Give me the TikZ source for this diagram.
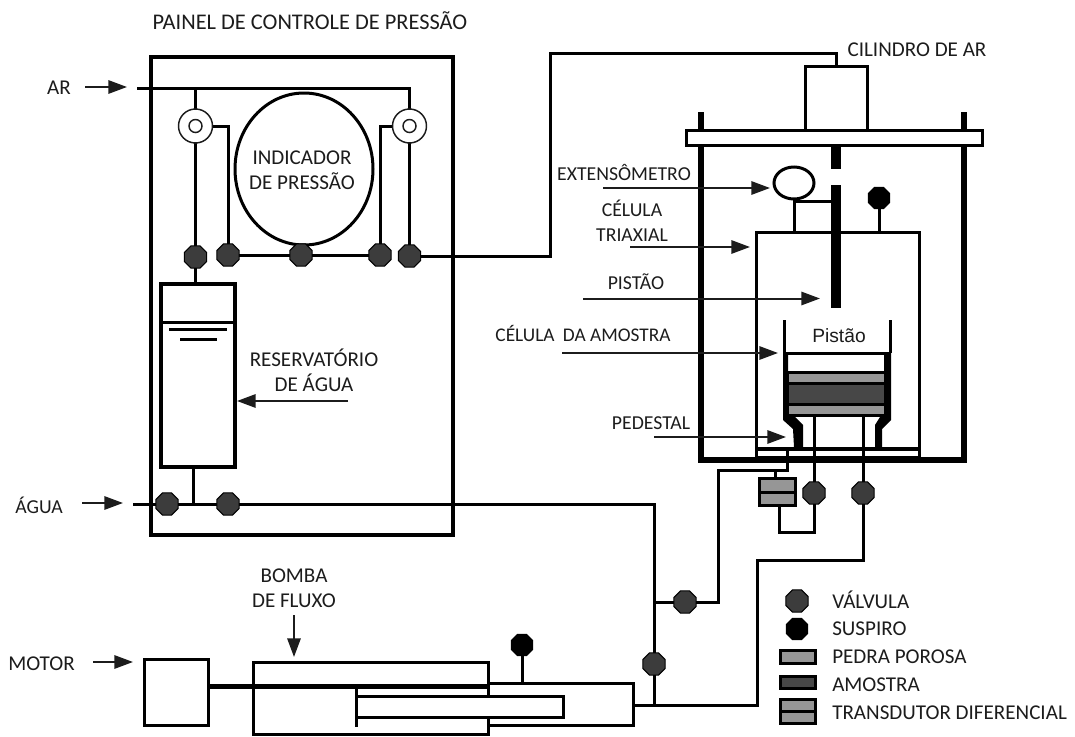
\documentclass[tikz,border=0pt]{standalone}
\usepackage{fontspec}
\setmainfont{Carlito}
\newfontfamily\pistonfont{Liberation Sans}
\usepackage{pgf, tikz}
\usetikzlibrary{arrows.meta,shapes.geometric}
\pgfdeclarelayer{edgelayer}
\pgfdeclarelayer{nodelayer}
\pgfsetlayers{edgelayer,nodelayer,main}
\def\px{0.75pt}
\definecolor{valvegrey}{HTML}{3C3C3C}
\definecolor{stonegrey}{HTML}{969696}
\definecolor{samplegrey}{HTML}{474747}
\definecolor{inkgrey}{HTML}{1C1C1C}
\tikzstyle{pipe}=[draw=black, line width=2.25pt]
\tikzstyle{wall}=[draw=black, line width=4.5pt]
\tikzstyle{pointer}=[draw=inkgrey, line width=1.5pt, -{Triangle[length=14pt,width=10pt]}]
\tikzstyle{tag}=[font=\fontsize{14.8}{18.8}\selectfont, text=inkgrey, inner sep=0pt, align=center]
\tikzstyle{bigtag}=[style=tag, font=\fontsize{15.8}{18.8}\selectfont]
\tikzstyle{titletag}=[style=tag, font=\fontsize{16.8}{18.8}\selectfont]
\tikzstyle{legendtag}=[style=bigtag, anchor=west]
\tikzstyle{valve}=[regular polygon, regular polygon sides=8, fill=valvegrey, draw=black, line width=0.8pt, minimum size=24*\px, inner sep=0pt, outer sep=0pt]
\tikzstyle{vent}=[style=valve, fill=black, minimum size=23*\px]
\tikzstyle{box}=[rectangle, draw=black, line width=2.25pt, inner sep=0pt, outer sep=0pt]
\tikzstyle{stone}=[style=box, fill=stonegrey]
\tikzstyle{sample}=[style=box, fill=samplegrey]
\tikzstyle{regulator}=[circle, fill=white, draw=inkgrey, line width=1.1pt, inner sep=0pt, outer sep=0pt]

\begin{document}
\begin{tikzpicture}[x=0.75pt, y=-0.75pt]
	\useasboundingbox (0, 0) rectangle (1075, 736);
	\begin{pgfonlayer}{nodelayer}
		% control panel
		\node [style=titletag] (paneltag) at (310, 21) {PAINEL DE CONTROLE DE PRESSÃO};
		\node [style=regulator, minimum size=34*\px] (reg1) at (195.5, 126) {};
		\node [style=regulator, minimum size=13*\px] (reg1in) at (195.5, 126) {};
		\node [style=regulator, minimum size=34*\px] (reg2) at (409.5, 126) {};
		\node [style=regulator, minimum size=13*\px] (reg2in) at (409.5, 126) {};
		\node [ellipse, fill=white, draw=black, line width=2.25pt, minimum width=138*\px, minimum height=152*\px, inner sep=0pt, outer sep=0pt] (gauge) at (304, 169) {};
		\node [style=bigtag] (gaugetag) at (302, 170) {INDICADOR\\DE PRESSÃO};
		\node [style=valve] (v1) at (195.5, 257) {};
		\node [style=valve] (v2) at (228, 255) {};
		\node [style=valve] (v3) at (301, 255) {};
		\node [style=valve] (v4) at (380, 255) {};
		\node [style=valve] (v5) at (409.5, 256) {};
		\node [style=valve] (v6) at (167, 504) {};
		\node [style=valve] (v7) at (228, 504) {};
		\node [style=bigtag] (restag) at (314, 370) {RESERVATÓRIO\\DE ÁGUA};
		\node [style=bigtag] (artag) at (59, 88) {AR};
		\node [style=tag] (aguatag) at (39, 505) {ÁGUA};
		% triaxial cell
		\node [style=bigtag] (cyltag) at (917, 50) {CILINDRO DE AR};
		\node [style=box, fill=white, minimum width=296*\px, minimum height=15*\px] (plate) at (834, 137.5) {};
		\node [ellipse, fill=white, draw=black, line width=2.25pt, minimum width=40*\px, minimum height=32*\px, inner sep=0pt, outer sep=0pt] (ext) at (794, 183) {};
		\node [style=vent] (vent1) at (879, 198) {};
		\node [style=tag] (exttag) at (624, 172) {EXTENSÔMETRO};
		\node [style=tag] (tritag) at (632, 221) {CÉLULA\\TRIAXIAL};
		\node [style=tag] (pistag) at (636, 282) {PISTÃO};
		\node [style=tag, font=\fontsize{14.5}{18.8}\selectfont] (celtag) at (583, 333) {CÉLULA\hspace{3pt} DA AMOSTRA};
		\node [style=tag] (pedtag) at (651, 423) {PEDESTAL};
		\node [font=\pistonfont\fontsize{14.4}{17}\selectfont, text=inkgrey, inner sep=0pt] (pistxt) at (839, 336) {Pistão};
		\node [style=stone, minimum width=98*\px, minimum height=12*\px] (stone1) at (836, 378) {};
		\node [style=stone, minimum width=98*\px, minimum height=11*\px] (stone2) at (836, 410) {};
		\node [style=sample, minimum width=98*\px, minimum height=20.5*\px] (spec) at (836, 394) {};
		\node [style=box, fill=stonegrey, minimum width=36*\px, minimum height=27*\px] (trans) at (777, 492) {};
		\node [style=valve] (v10) at (814, 493) {};
		\node [style=valve] (v11) at (863, 493) {};
		\node [style=valve] (v8) at (685, 602) {};
		\node [style=valve] (v9) at (654, 664) {};
		% pump
		\node [style=bigtag] (pumptag) at (294, 588) {BOMBA\\DE FLUXO};
		\node [style=bigtag] (motortag) at (41.5, 664) {MOTOR};
		\node [style=box, minimum width=64*\px, minimum height=66*\px] (motor) at (176, 692) {};
		\node [style=vent] (vent2) at (522, 645) {};
		% legend
		\node [style=valve] (leg1) at (797, 601) {};
		\node [style=vent] (leg2) at (797, 629) {};
		\node [style=stone, minimum width=35*\px, minimum height=13*\px] (leg3) at (797.5, 656.5) {};
		\node [style=sample, minimum width=35*\px, minimum height=12*\px] (leg4) at (797.5, 682) {};
		\node [style=stone, minimum width=35*\px, minimum height=24*\px] (leg5) at (797.5, 711) {};
		\node [style=legendtag] (legt1) at (832, 600) {VÁLVULA};
		\node [style=legendtag] (legt2) at (832, 629) {SUSPIRO};
		\node [style=legendtag] (legt3) at (832, 657) {PEDRA POROSA};
		\node [style=legendtag] (legt4) at (832, 685) {AMOSTRA};
		\node [style=legendtag] (legt5) at (832, 713) {TRANSDUTOR DIFERENCIAL};
		\draw [style=pipe] (trans.west) to (trans.east);
		\draw [style=pipe] (leg5.west) to (leg5.east);
		% specimen cell
		\draw [style=pipe] (784, 320) to (784, 353);
		\draw [style=pipe] (890, 320) to (890, 353);
		\draw [style=pipe] (784, 353) to (890, 353);
		\fill [black] (783, 353) -- (783, 420) -- (793, 429) -- (794, 447) -- (803, 447) -- (803, 425) -- (795, 417) -- (788, 417) -- (788, 353) -- cycle;
		\fill [black] (891, 353) -- (891, 420) -- (882, 429) -- (882, 447) -- (875, 447) -- (875, 425) -- (880, 417) -- (884, 417) -- (884, 353) -- cycle;
		\coordinate (arf) at (85, 87);
		\coordinate (art) at (127, 87);
		\coordinate (aguaf) at (82, 503);
		\coordinate (aguat) at (123, 503);
		\coordinate (motorf) at (93, 662);
		\coordinate (motort) at (133, 662);
		\coordinate (pumpf) at (294, 615);
		\coordinate (pumpt) at (294, 657);
		\coordinate (resf) at (348, 401);
		\coordinate (rest) at (237, 401);
		\coordinate (extf) at (603, 188);
		\coordinate (extt) at (770, 188);
		\coordinate (trif) at (630, 247);
		\coordinate (trit) at (750, 247);
		\coordinate (pisf) at (583, 298.5);
		\coordinate (pist) at (820, 298.5);
		\coordinate (celf) at (562, 353);
		\coordinate (celt) at (778, 353);
		\coordinate (pedf) at (654, 437);
		\coordinate (pedt) at (786, 437);
		\draw [style=pointer] (arf) to (art);
		\draw [style=pointer] (aguaf) to (aguat);
		\draw [style=pointer] (motorf) to (motort);
		\draw [style=pointer] (pumpf) to (pumpt);
		\draw [style=pointer] (resf) to (rest);
		\draw [style=pointer] (extf) to (extt);
		\draw [style=pointer] (trif) to (trit);
		\draw [style=pointer] (pisf) to (pist);
		\draw [style=pointer] (celf) to (celt);
		\draw [style=pointer] (pedf) to (pedt);
	\end{pgfonlayer}
	\begin{pgfonlayer}{edgelayer}
		% frames
		\node [style=box, line width=3.6pt, minimum width=302*\px, minimum height=478*\px] (panel) at (302, 296) {};
		\node [style=box, line width=2.6pt, minimum width=74*\px, minimum height=183*\px] (res) at (198, 375.5) {};
		\node [style=box, minimum width=62*\px, minimum height=64*\px] (cyl) at (836, 98) {};
		\node [style=box, minimum width=163*\px, minimum height=225*\px] (cell) at (837.5, 344.5) {};
		\draw [style=wall, line cap=butt] (701, 112) to (701, 460) to (964, 460) to (964, 112);
		\draw [line width=3pt] (756, 449) to (919, 449);
		\draw [style=pipe] (161, 322) to (235, 322);
		\draw [style=pipe] (169, 329) to (227, 329);
		\draw [style=pipe] (180, 339) to (217, 339);
		% air side
		\coordinate (airin) at (137, 88);
		\coordinate (air1) at (195.5, 88);
		\coordinate (air2) at (409.5, 88);
		\coordinate (outa) at (550, 256);
		\coordinate (outb) at (550, 53);
		\coordinate (outc) at (836, 53);
		\draw [style=pipe] (airin) to (air2) to (reg2);
		\draw [style=pipe] (air1) to (reg1);
		\draw [style=pipe] (reg1) to (v1);
		\draw [style=pipe] (reg2) to (v5);
		\draw [style=pipe] (reg1) -| (v2);
		\draw [style=pipe] (reg2) -| (v4);
		\draw [style=pipe] (v2) to (v3);
		\draw [style=pipe] (v3) to (v4);
		\draw [style=pipe] (v5) to (outa) to (outb) to (outc) to (cyl.north);
		\draw [style=pipe] (v1) to (v1 |- res.north);
		% water side
		\coordinate (watin) at (133, 504);
		\coordinate (watres) at (193, 504);
		\coordinate (wata) at (654, 504);
		\coordinate (watb) at (654, 602);
		\coordinate (watc) at (654, 705);
		\coordinate (lina) at (718, 602);
		\coordinate (linb) at (718, 470);
		\coordinate (linc) at (787, 470);
		\coordinate (lind) at (787, 449);
		\coordinate (lowa) at (757, 705);
		\coordinate (lowb) at (757, 560);
		\coordinate (lowc) at (863, 560);
		\coordinate (dra) at (814, 532);
		\coordinate (drb) at (779, 532);
		\coordinate (stema) at (775, 470);
		\coordinate (peda) at (814, 417);
		\coordinate (pedb) at (863, 417);
		\draw [style=pipe] (watin) to (v6);
		\draw [style=pipe] (v6) to (v7);
		\draw [style=pipe] (v7) to (wata) to (v9);
		\draw [style=pipe] (v9) to (watc);
		\draw [style=pipe] (watres) to (watres |- res.south);
		\draw [style=pipe] (watb) to (v8);
		\draw [style=pipe] (v8) to (lina) to (linb) to (linc) to (lind);
		\draw [style=pipe] (stema) to (stema |- trans.north);
		\draw [style=pipe] (v10) to (peda);
		\draw [style=pipe] (v11) to (pedb);
		\draw [style=pipe] (v10) to (dra) to (drb) to (drb |- trans.south);
		\draw [style=pipe] (v11) to (lowc) to (lowb) to (lowa) to (watc);
		% piston rod and extensometer
		\coordinate (roda) at (836, 145);
		\coordinate (rodb) at (836, 169);
		\coordinate (rodc) at (836, 185);
		\coordinate (rodd) at (836, 308);
		\coordinate (exta) at (794, 201);
		\coordinate (extb) at (832, 201);
		\coordinate (extc) at (794, 232);
		\coordinate (venta) at (879, 232);
		\draw [line width=7.5pt] (roda) to (rodb);
		\draw [line width=7.5pt] (rodc) to (rodd);
		\draw [style=pipe] (ext) to (extc);
		\draw [style=pipe] (exta) to (extb);
		\draw [style=pipe] (vent1) to (venta);
		% pump
		\coordinate (rodm) at (208, 686.5);
		\coordinate (rodp) at (488, 686.5);
		\coordinate (venb) at (522, 683);
		\draw [line width=4pt] (rodm) to (rodp);
		\draw [style=pipe] (488, 696) to (488, 662) to (253, 662) to (253, 734.5) to (488, 734.5) to (488, 717);
		\draw [style=pipe] (488, 683) to (633, 683) to (633, 725) to (488, 725);
		\draw [style=pipe] (356, 688) to (356, 727);
		\draw [style=pipe] (356, 696) to (563, 696) to (563, 717) to (356, 717);
		\draw [style=pipe] (vent2) to (venb);
		\draw [style=pipe] (633, 705) to (watc);
	\end{pgfonlayer}
\end{tikzpicture}
\end{document}
